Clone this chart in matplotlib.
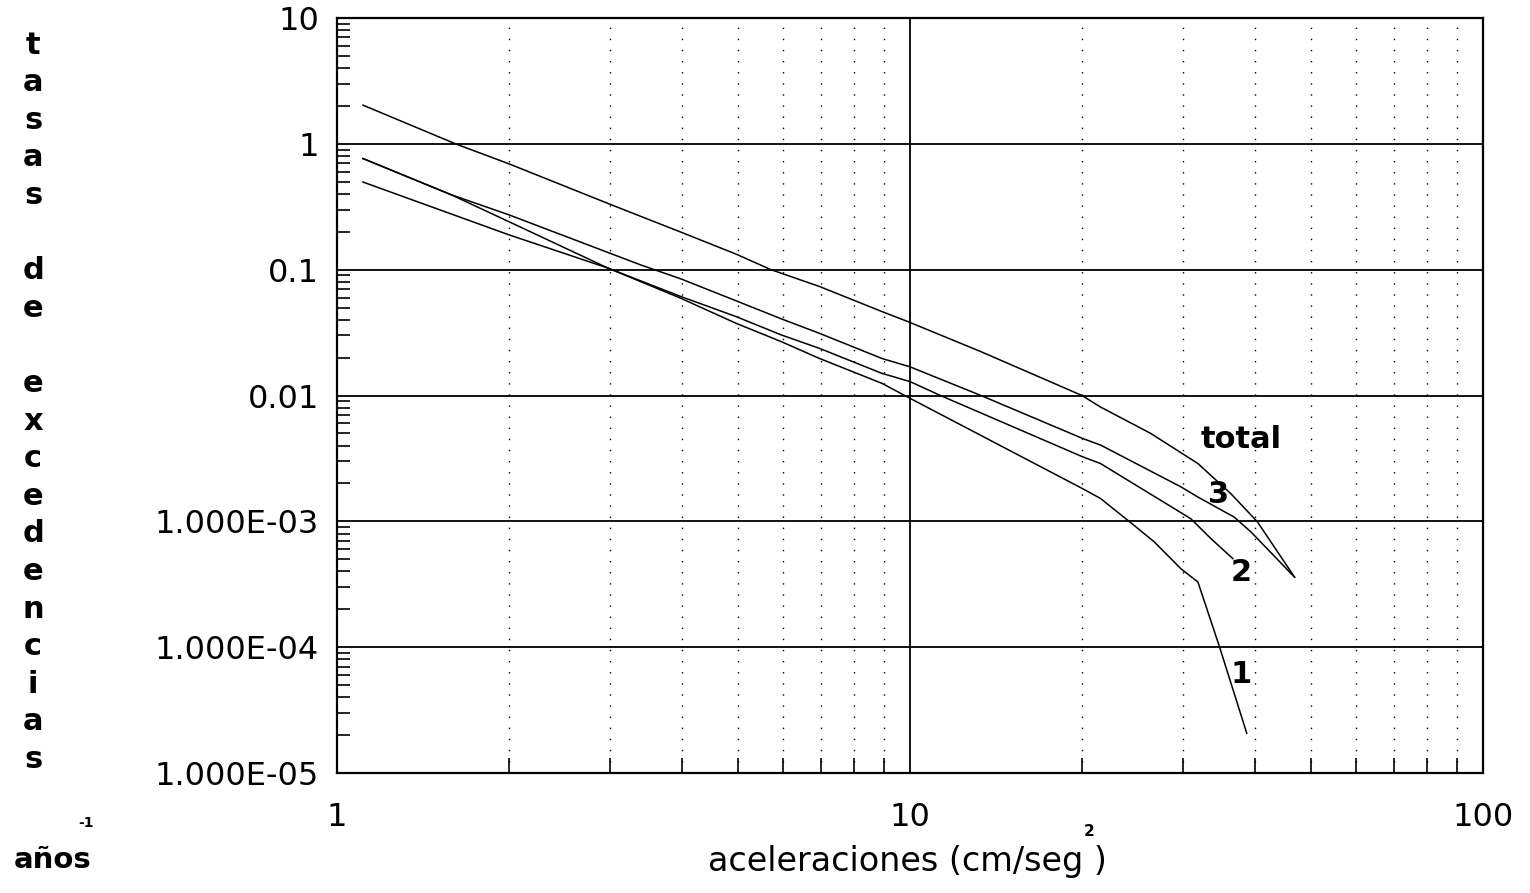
import matplotlib
matplotlib.use('Agg')
import matplotlib.pyplot as plt

plt.rcParams['font.family'] = ['DejaVu Sans']

# curva total
x_total = [1.11, 1.61, 1.99, 2.99, 3.98, 4.97, 5.72, 6.95, 8.93, 9.91, 13.3, 19.96,
           21.5, 26.3, 31.8, 36.3, 40.4, 46.9]
y_total = [2.03, 1.0, 0.697, 0.332, 0.199, 0.133, 0.1, 0.0735, 0.0465, 0.0387, 0.0223, 0.01,
           0.0081, 0.005, 0.00288, 0.00166, 0.00099, 0.00036]

# fuente 3
x_3 = [1.11, 1.58, 1.99, 3.39, 3.98, 4.97, 5.96, 6.95, 8.93, 10.0, 13.3, 20.0,
       21.5, 29.7, 31.8, 36.8, 39.4, 46.9]
y_3 = [0.764, 0.395, 0.274, 0.109, 0.0846, 0.0566, 0.0407, 0.0312, 0.0197, 0.0169, 0.01, 0.00456,
       0.00404, 0.00188, 0.00156, 0.00108, 0.00082, 0.00036]

# fuente 2
x_2 = [1.11, 1.58, 1.99, 2.97, 3.98, 4.97, 5.96, 6.95, 8.93, 10.0, 11.3, 20.0,
       21.5, 30.9, 33.5, 36.6]
y_2 = [0.764, 0.395, 0.242, 0.103, 0.0612, 0.0424, 0.0303, 0.0237, 0.015, 0.0129, 0.01, 0.00326,
       0.00288, 0.00105, 0.00073, 0.000505]

# fuente 1
x_1 = [1.11, 1.99, 2.97, 3.98, 4.97, 5.96, 6.95, 8.93, 10.0, 20.0, 21.5, 24.6,
       26.7, 29.7, 31.8, 34.7, 38.7]
y_1 = [0.497, 0.19, 0.103, 0.0593, 0.0375, 0.0268, 0.0197, 0.0125, 0.0095, 0.00182, 0.00152, 0.00093,
       0.000685, 0.00042, 0.00033, 0.0001, 2.07e-5]

curve_labels = ['total', '3', '2', '1']
label_x = [37.8, 34.6, 37.8, 37.8]
label_y = [0.00445, 0.00162, 0.000395, 6.1e-5]

yticks = [1e-5, 1e-4, 1e-3, 1e-2, 0.1, 1, 10]
ytick_labels = ['1.000E-05', '1.000E-04', '1.000E-03', '0.01', '0.1', '1', '10']
xticks = [1, 10, 100]
xtick_labels = ['1', '10', '100']
xminor = [2, 3, 4, 5, 6, 7, 8, 9, 20, 30, 40, 50, 60, 70, 80, 90]
yminor = [m * 10.0 ** e for e in range(-5, 1) for m in range(2, 10)]

W, H = 1530, 893
fig = plt.figure(figsize=(W / 100, H / 100), dpi=100)
ax = fig.add_axes([337 / W, 1 - 773 / H, (1483 - 337) / W, (773 - 18) / H])
ax.set_xscale('log')
ax.set_yscale('log')
ax.set_xlim(1, 100)
ax.set_ylim(1e-5, 10)

for xs, ys in [(x_total, y_total), (x_3, y_3), (x_2, y_2), (x_1, y_1)]:
    ax.plot(xs, ys, color='black', lw=1.1)

for lab, lx, ly in zip(curve_labels, label_x, label_y):
    ax.text(lx, ly, lab, ha='center', va='center', fontsize=22, fontweight='bold')

ax.set_xticks(xticks)
ax.set_xticklabels(xtick_labels)
ax.set_yticks(yticks)
ax.set_yticklabels(ytick_labels)
ax.set_xticks(xminor, minor=True)
ax.set_yticks(yminor, minor=True)
ax.xaxis.set_minor_formatter(plt.NullFormatter())
ax.yaxis.set_minor_formatter(plt.NullFormatter())

ax.grid(True, which='major', color='black', lw=1.3)
ax.grid(True, which='minor', axis='x', color='black', lw=1.0, ls=(0, (1, 7)))

ax.tick_params(which='major', length=0, labelsize=23)
ax.tick_params(axis='x', which='major', pad=21)
ax.tick_params(axis='y', which='major', pad=13)
ax.tick_params(axis='x', which='minor', direction='in', length=11, width=1.2, top=False)
ax.tick_params(axis='y', which='minor', direction='in', length=9, width=1.2, right=False)
for s in ax.spines.values():
    s.set_linewidth(1.6)

# etiqueta vertical letra por letra
ylabel = 'tasas de excedencias'
for i, ch in enumerate(ylabel):
    if ch != ' ':
        fig.text(33 / W, 1 - (45 + i * 37.6) / H, ch, ha='center', va='center',
                 fontsize=22, fontweight='bold')

fig.text(53 / W, 1 - 860 / H, 'años', ha='center', va='center', fontsize=21, fontweight='bold')
fig.text(86 / W, 1 - 823 / H, '-1', ha='center', va='center', fontsize=10, fontweight='bold')
fig.text(907 / W, 1 - 862 / H, 'aceleraciones (cm/seg )', ha='center', va='center', fontsize=24)
fig.text(1089 / W, 1 - 832 / H, '2', ha='center', va='center', fontsize=11, fontweight='bold')

fig.savefig('out.png', dpi=100)
